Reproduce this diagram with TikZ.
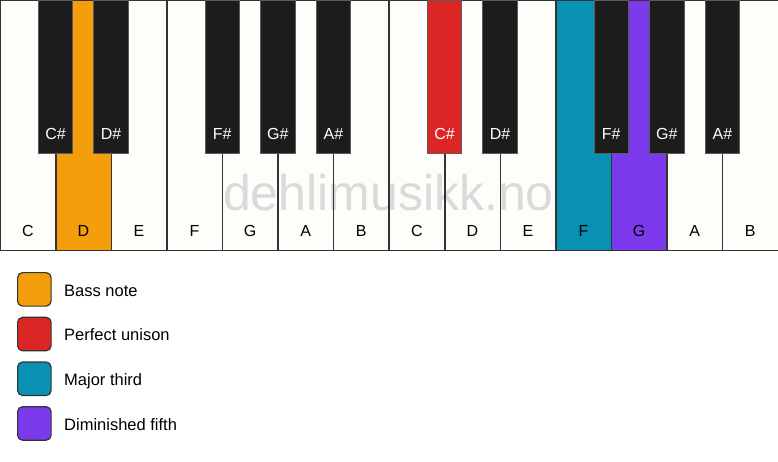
\documentclass[tikz,border=0pt]{standalone}
\usepackage{fontspec}
\setmainfont{Liberation Sans}
\definecolor{ivory}{HTML}{FFFDF9}
\definecolor{ebony}{HTML}{1C1C1C}
\definecolor{keyline}{HTML}{333333}
\definecolor{bass}{HTML}{F59E0B}
\definecolor{unison}{HTML}{DC2626}
\definecolor{third}{HTML}{0891B2}
\definecolor{fifth}{HTML}{7C3AED}
\definecolor{stamp}{HTML}{DADADA}
\tikzstyle{white key}=[anchor=north west, inner sep=0pt, minimum width=55.57pt, minimum height=250pt]
\tikzstyle{key edge}=[draw=keyline, line width=1.2pt]
\tikzstyle{black key}=[draw=keyline!80, line width=1pt, anchor=north, inner sep=0pt, minimum width=34.5pt, minimum height=153pt]
\tikzstyle{key name}=[anchor=base, inner sep=0pt, font=\fontsize{16}{19}\selectfont]
\tikzstyle{swatch}=[draw=keyline, line width=1.2pt, rounded corners=5pt, anchor=north west, inner sep=0pt, minimum size=33.5pt]
\tikzstyle{legend text}=[anchor=base west, inner sep=0pt, font=\fontsize{16.5}{20}\selectfont]

\begin{document}
\begin{tikzpicture}[x=1pt,y=-1pt]
    \useasboundingbox (0,0) rectangle (778,461);

    % White keys
    \foreach \i/\c in {0/ivory,1/bass,2/ivory,3/ivory,4/ivory,5/ivory,6/ivory,7/ivory,8/ivory,9/ivory,10/third,11/fifth,12/ivory,13/ivory}{
        \node[white key, fill=\c] (w\i) at (55.57*\i,0) {};
    }

    % Watermark
    \node[anchor=base, inner sep=0pt, text=stamp, font=\fontsize{50}{60}\selectfont] (mark) at (388.5,210) {dehlimusikk.no};

    % Key edges and names
    \foreach \i/\n in {0/C,1/D,2/E,3/F,4/G,5/A,6/B,7/C,8/D,9/E,10/F,11/G,12/A,13/B}{
        \draw[key edge] (w\i.north west) rectangle (w\i.south east);
        \node[key name] (wn\i) at (55.57*\i+27.8,236) {\n};
    }

    % Black keys
    \foreach \b/\n/\c in {1/C\#/ebony,2/D\#/ebony,4/F\#/ebony,5/G\#/ebony,6/A\#/ebony,8/C\#/unison,9/D\#/ebony,11/F\#/ebony,12/G\#/ebony,13/A\#/ebony}{
        \node[black key, fill=\c] (k\b) at (55.57*\b,0) {};
        \node[key name, text=white] (kn\b) at (55.57*\b,139) {\n};
    }

    % Legend
    \foreach \j/\c/\t in {0/bass/Bass note,1/unison/Perfect unison,2/third/Major third,3/fifth/Diminished fifth}{
        \node[swatch, fill=\c] (s\j) at (17,272+44.7*\j) {};
        \node[legend text] (t\j) at (64,296+44.7*\j) {\t};
    }

\end{tikzpicture}
\end{document}
